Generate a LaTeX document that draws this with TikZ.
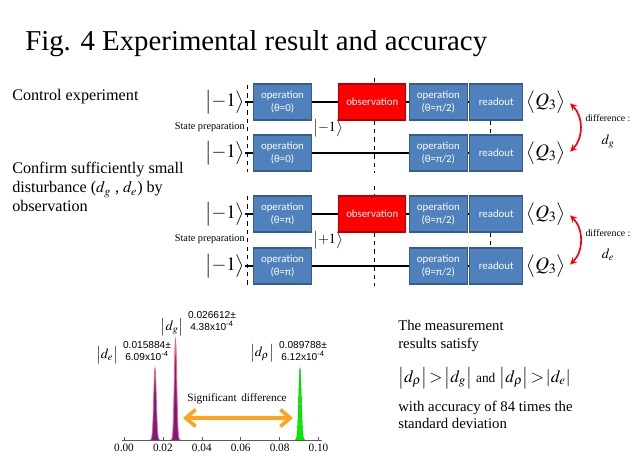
\documentclass[tikz,border=0pt]{standalone}
\usepackage{mathptmx}
\usepackage{fontspec}
\setmainfont{Liberation Serif}
\newfontfamily\boxfont{Carlito}
\newfontfamily\numfont{Liberation Sans}
\usepackage{xcolor}
\usetikzlibrary{arrows.meta}
\definecolor{opblue}{HTML}{4F81BD}
\definecolor{opedge}{HTML}{385D8A}
\definecolor{obsred}{HTML}{FF0000}
\definecolor{obsedge}{HTML}{B80000}
\definecolor{peakpurple}{HTML}{7E1A7E}
\definecolor{peakpink}{HTML}{F06080}
\definecolor{peakgreen}{HTML}{00F000}
\definecolor{arroworange}{HTML}{FFA41C}

\begin{document}
\begin{tikzpicture}[x=0.025cm,y=-0.025cm,>=stealth,
  op node/.style={draw=opedge,fill=opblue,text=white,font=\boxfont\fontsize{7.7}{9.6}\selectfont,minimum width=1.46cm,minimum height=0.9cm,align=center,inner sep=1pt,line width=0.8pt},
  obs node/.style={op node,fill=obsred,draw=obsedge,minimum width=1.67cm},
  read node/.style={op node,minimum width=1.32cm},
  ket node/.style={font=\fontsize{13.5}{15}\selectfont,inner sep=0pt},
  side text/.style={font=\fontsize{11.5}{13.5}\selectfont,anchor=west,align=left,inner sep=0pt},
  wire/.style={line width=1pt},
  cut/.style={dashed,line width=0.6pt},
  abs label/.style={font=\fontsize{10}{11}\selectfont,inner sep=0pt},
  num label/.style={font=\numfont\fontsize{7.2}{8.4}\selectfont,align=center,inner sep=0pt}]

\useasboundingbox (0,0) rectangle (640,474);

% title and left texts
\node[font=\fontsize{20.5}{23}\selectfont,anchor=base west,inner sep=0pt] (title) at (25,50) {Fig. 4 Experimental result and accuracy};
\node[side text] (ctrl) at (12,97) {Control experiment};
\node[side text] (confirm) at (12,187) {Confirm sufficiently small\\disturbance ($d_g$ , $d_e$) by\\observation};

% control experiment
\node[ket node] (in1) at (225,102) {$\bigl|-1\bigr\rangle$};
\node[ket node] (in2) at (225,153) {$\bigl|-1\bigr\rangle$};
\node[op node] (op1) at (282.5,102) {operation\\(θ=0)};
\node[obs node] (obs1) at (372.3,102) {observation};
\node[op node] (op2) at (438.3,102) {operation\\(θ=π/2)};
\node[read node] (read1) at (496.3,102) {readout};
\node[op node] (op3) at (282.5,153) {operation\\(θ=0)};
\node[op node] (op4) at (438.3,153) {operation\\(θ=π/2)};
\node[read node] (read2) at (496.3,153) {readout};
\node[ket node] (q1) at (546,102) {$\bigl\langle Q_3\bigr\rangle$};
\node[ket node] (q2) at (546,153) {$\bigl\langle Q_3\bigr\rangle$};
\node[font=\fontsize{7.3}{8}\selectfont,anchor=east,inner sep=0pt] (prep1) at (245,127.5) {State preparation};
\node[font=\fontsize{10}{11}\selectfont,inner sep=0pt] (mid1) at (328,128) {$\bigl|-1\bigr\rangle$};
\node[font=\fontsize{7}{8}\selectfont,inner sep=0pt] (diff1) at (608,118) {difference :};
\node[font=\fontsize{10}{12}\selectfont,inner sep=0pt] (dg) at (608,142) {$d_g$};

\coordinate (prep1 top) at (247,85);
\coordinate (prep1 bot) at (247,172);
\coordinate (cut1 top) at (374,78);
\coordinate (cut1 bot) at (374,173);
\draw[cut] (prep1 top) -- (prep1 bot);
\draw[cut] (cut1 top) -- (cut1 top |- obs1.north);
\draw[cut] (cut1 top |- obs1.south) -- (cut1 bot);
\draw[cut] ([xshift=-4pt]read1.south) -- ([xshift=-4pt]read2.north);

\draw[wire] (in1.east) -- (op1.west);
\draw[wire] (op1.east) -- (obs1.west);
\draw[wire] (obs1.east) -- (op2.west);
\draw[wire] (op2.east) -- (read1.west);
\draw[wire] (in2.east) -- (op3.west);
\draw[wire] (op3.east) -- (op4.west);
\draw[wire] (op4.east) -- (read2.west);
\draw[<->,red,line width=1.2pt] ([xshift=3pt,yshift=-1pt]q1.east) to[bend left=45] ([xshift=3pt,yshift=1pt]q2.east);

% observation experiment
\node[ket node] (in3) at (225,214) {$\bigl|-1\bigr\rangle$};
\node[ket node] (in4) at (225,266) {$\bigl|-1\bigr\rangle$};
\node[op node] (op5) at (282.5,214) {operation\\(θ=π)};
\node[obs node] (obs2) at (372.3,214) {observation};
\node[op node] (op6) at (438.3,214) {operation\\(θ=π/2)};
\node[read node] (read3) at (496.3,214) {readout};
\node[op node] (op7) at (282.5,266) {operation\\(θ=π)};
\node[op node] (op8) at (438.3,266) {operation\\(θ=π/2)};
\node[read node] (read4) at (496.3,266) {readout};
\node[ket node] (q3) at (546,214) {$\bigl\langle Q_3\bigr\rangle$};
\node[ket node] (q4) at (546,266) {$\bigl\langle Q_3\bigr\rangle$};
\node[font=\fontsize{7.3}{8}\selectfont,anchor=east,inner sep=0pt] (prep2) at (245,239.5) {State preparation};
\node[font=\fontsize{10}{11}\selectfont,inner sep=0pt] (mid2) at (328,240) {$\bigl|+1\bigr\rangle$};
\node[font=\fontsize{7}{8}\selectfont,inner sep=0pt] (diff2) at (608,233) {difference :};
\node[font=\fontsize{10}{12}\selectfont,inner sep=0pt] (de) at (608,255) {$d_e$};

\coordinate (prep2 top) at (247,196);
\coordinate (prep2 bot) at (247,285);
\coordinate (cut2 top) at (374,186);
\coordinate (cut2 bot) at (374,286);
\draw[cut] (prep2 top) -- (prep2 bot);
\draw[cut] (cut2 top) -- (cut2 top |- obs2.north);
\draw[cut] (cut2 top |- obs2.south) -- (cut2 bot);
\draw[cut] ([xshift=-4pt]read3.south) -- ([xshift=-4pt]read4.north);

\draw[wire] (in3.east) -- (op5.west);
\draw[wire] (op5.east) -- (obs2.west);
\draw[wire] (obs2.east) -- (op6.west);
\draw[wire] (op6.east) -- (read3.west);
\draw[wire] (in4.east) -- (op7.west);
\draw[wire] (op7.east) -- (op8.west);
\draw[wire] (op8.east) -- (read4.west);
\draw[<->,red,line width=1.2pt] ([xshift=3pt,yshift=-1pt]q3.east) to[bend left=45] ([xshift=3pt,yshift=1pt]q4.east);

% histogram
\coordinate (axis left) at (122,440);
\coordinate (axis right) at (322,440);
\draw[line width=0.5pt,gray!70!black] (axis left) -- (axis right);
\foreach \t/\lab in {0/0.00,1/0.02,2/0.04,3/0.06,4/0.08,5/0.10}{
  \draw[line width=0.4pt,gray!70!black] (124+38.9*\t,440) -- (124+38.9*\t,437);
  \node[font=\fontsize{8}{9}\selectfont,inner sep=0pt] (tick\t) at (124+38.9*\t,448) {\lab};
}
\fill[peakpurple,draw=peakpink,line width=0.5pt] plot[domain=-5:5,samples=41] ({155+\x},{440-72*exp(-(\x/1.8)^2)});
\fill[peakpurple,draw=peakpink,line width=0.6pt] plot[domain=-5:5,samples=41] ({175.5+\x},{440-100*exp(-(\x/1.7)^2)});
\fill[peakgreen,draw=green!70!black,line width=0.3pt] plot[domain=-5:5,samples=41] ({300+\x},{440-72*exp(-(\x/1.8)^2)});

\node[abs label] (de peak) at (107,355) {$\bigl|d_e\bigr|$};
\node[num label] (de val) at (147,351) {0.015884±\\6.09x10\textsuperscript{-4}};
\node[abs label] (dg peak) at (172,327) {$\bigl|d_g\bigr|$};
\node[num label] (dg val) at (212,321) {0.026612±\\4.38x10\textsuperscript{-4}};
\node[abs label] (drho peak) at (262,353) {$\bigl|d_\rho\bigr|$};
\node[num label] (drho val) at (303,351) {0.089788±\\6.12x10\textsuperscript{-4}};

\node[font=\fontsize{8}{9}\selectfont,inner sep=0pt] (signif) at (237,399) {Significant\, difference};
\coordinate (gap left) at (183,418);
\coordinate (gap right) at (293,418);
\draw[{Straight Barb[length=7pt,width=12pt,line width=2.6pt]}-{Straight Barb[length=7pt,width=12pt,line width=2.6pt]},arroworange,line width=2.6pt] (gap left) -- (gap right);

% conclusion
\node[font=\fontsize{10.5}{12.3}\selectfont,anchor=west,align=left,inner sep=0pt] (result) at (398,336) {The measurement\\results satisfy};
\node[font=\fontsize{12.3}{14}\selectfont,anchor=west,inner sep=0pt] (ineq) at (398,378) {$\left|d_\rho\right|\!>\!\left|d_g\right|$ {\fontsize{9.5}{10}\selectfont and} $\left|d_\rho\right|\!>\!\left|d_e\right|$};
\node[font=\fontsize{10.5}{12.3}\selectfont,anchor=west,align=left,inner sep=0pt] (accuracy) at (398,415) {with accuracy of 84 times the\\standard deviation};
\end{tikzpicture}
\end{document}
